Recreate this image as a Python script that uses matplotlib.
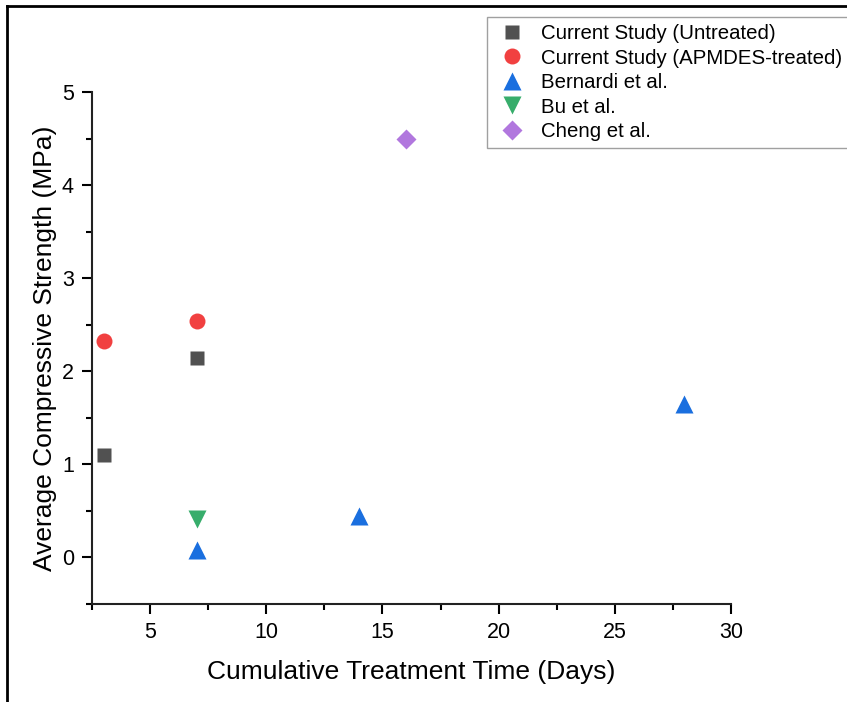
from matplotlib import pyplot as plt
from matplotlib.lines import Line2D
from matplotlib.ticker import MultipleLocator

plt.rcParams['font.family'] = ['Liberation Sans', 'DejaVu Sans']

# data
untreated_days = [3, 7]
untreated_mpa = [1.1, 2.14]
apmdes_days = [3, 7]
apmdes_mpa = [2.32, 2.54]
bernardi_days = [7, 14, 28]
bernardi_mpa = [0.08, 0.45, 1.65]
bu_days = [7]
bu_mpa = [0.41]
cheng_days = [16]
cheng_mpa = [4.5]

fig = plt.figure(figsize=(8.47, 7.02), dpi=100)
ax = fig.add_axes([0.1086, 0.1396, 0.7544, 0.7294])

ax.plot(untreated_days, untreated_mpa, 's', color='#515151', ms=10,
        mec='none', label='Current Study (Untreated)')
ax.plot(apmdes_days, apmdes_mpa, 'o', color='#F14040', ms=11.5,
        mec='none', label='Current Study (APMDES-treated)')
ax.plot(bernardi_days, bernardi_mpa, '^', color='#1A6FDF', ms=13.5,
        mec='none', label='Bernardi et al.')
ax.plot(bu_days, bu_mpa, 'v', color='#37AD6B', ms=13.5,
        mec='none', label='Bu et al.')
ax.plot(cheng_days, cheng_mpa, 'D', color='#B177DE', ms=10,
        mec='none', label='Cheng et al.')

ax.set_xlim(2.5, 30)
ax.set_ylim(-0.5, 5)
ax.xaxis.set_major_locator(MultipleLocator(5))
ax.xaxis.set_minor_locator(MultipleLocator(2.5))
ax.yaxis.set_major_locator(MultipleLocator(1))
ax.yaxis.set_minor_locator(MultipleLocator(0.5))
ax.set_xticks([5, 10, 15, 20, 25, 30])
ax.set_yticks([0, 1, 2, 3, 4, 5])

for side in ['top', 'right']:
    ax.spines[side].set_visible(False)
for side in ['left', 'bottom']:
    ax.spines[side].set_linewidth(1.5)
    ax.spines[side].set_color('#222222')

ax.tick_params(which='major', direction='out', length=7, width=1.5,
               labelsize=15.5, pad=6)
ax.tick_params(which='minor', direction='out', length=4, width=1.5)

ax.set_xlabel('Cumulative Treatment Time (Days)', fontsize=19)
ax.set_ylabel('Average Compressive Strength (MPa)', fontsize=19)
ax.xaxis.set_label_coords(0.5, -0.11)
ax.yaxis.set_label_coords(-0.0545, 0.5)

leg = ax.legend(loc='upper left', bbox_to_anchor=(0.575, 0.976),
                bbox_transform=fig.transFigure,
                fontsize=14.7, frameon=True, fancybox=False,
                handletextpad=0.54, labelspacing=0.27, borderpad=0.35,
                handlelength=1.76, borderaxespad=0)
leg.get_frame().set_edgecolor('#888888')
leg.get_frame().set_linewidth(1.0)

# screenshot frame
fig.add_artist(Line2D([0.0083, 0.0083], [0, 0.991], color='black', lw=2))
fig.add_artist(Line2D([0.0083, 1], [0.991, 0.991], color='black', lw=2))

plt.savefig('out.png', dpi=100)
